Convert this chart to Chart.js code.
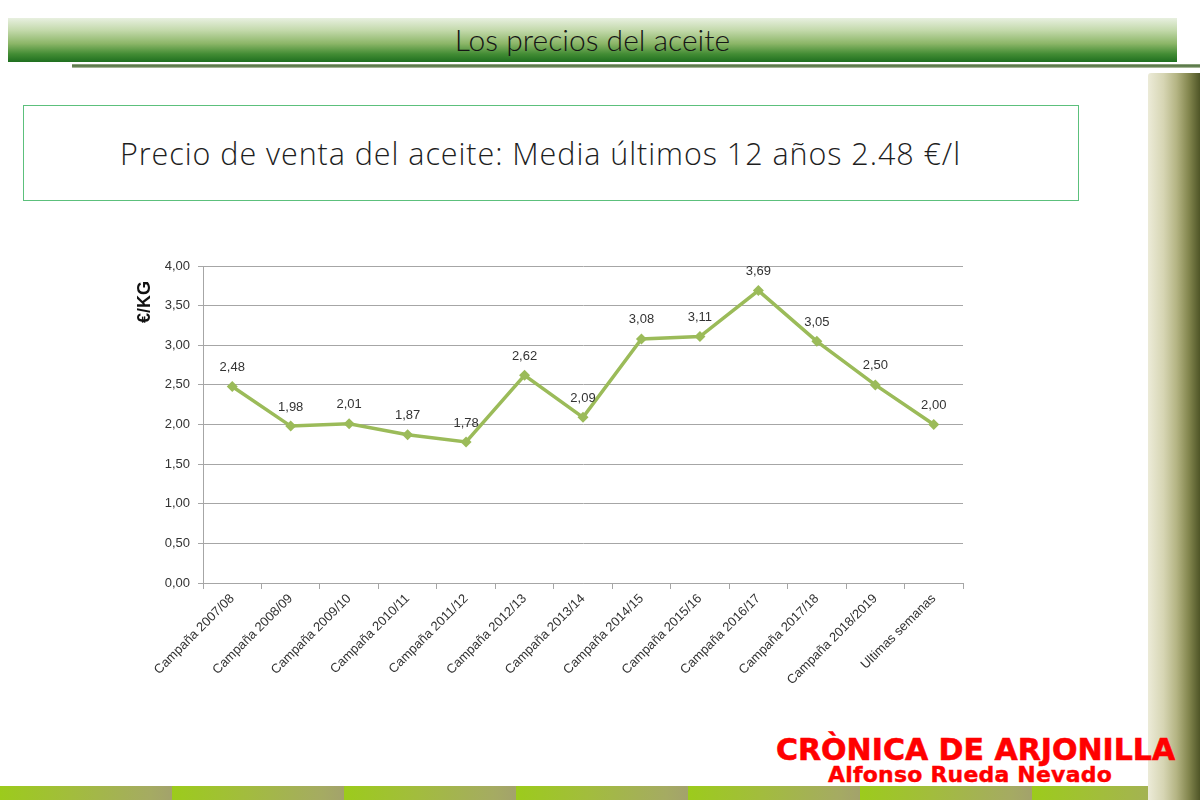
<!DOCTYPE html>
<html>
<head>
<meta charset="utf-8">
<script src="https://cdn.jsdelivr.net/npm/chart.js@4.4.1/dist/chart.umd.min.js"></script>
<style>
  html, body { margin:0; padding:0; background:#fff; }
  body { width:1200px; height:800px; position:relative; overflow:hidden; font-family:"Liberation Sans", Arial, sans-serif; }
  #hdr { position:absolute; left:8px; top:18px; width:1169px; height:44px;
         background:linear-gradient(to bottom, #e8f0e0 0%, #c3d9ab 28%, #8cb668 58%, #428c34 82%, #1f6f1f 100%);
         text-align:center; line-height:42px; font-family:"Lato", sans-serif; font-weight:300; font-size:30px; color:#151515; }
  #hline { position:absolute; left:72px; top:64px; width:1128px; height:4px;
           background:linear-gradient(to bottom, #9fb48f 0%, #4f6e3e 45%, #6f8a5e 70%, #c8d3bd 100%); }
  #rbar { position:absolute; left:1148px; top:73px; width:52px; height:727px;
          background:linear-gradient(to right, #ecebd8 0%, #d6d5b3 30%, #b4b483 55%, #84874f 78%, #4f5527 100%);
          border-top-left-radius:3px; }
  #bstrip { position:absolute; left:0; top:786px; width:1200px; height:14px;
            background:repeating-linear-gradient(to right, #9ccb1c 0px, #a2bd3c 70px, #a5ab62 150px, #a3a26c 172px); }
  #tbox { position:absolute; left:23px; top:105px; width:1054px; height:94px; border:1px solid #5cc07c; }
  #ttext { position:absolute; left:120px; top:131px; font-family:"Open Sans", sans-serif; font-weight:300; font-size:30.5px; letter-spacing:0.95px; color:#1e1e1e; white-space:nowrap; line-height:44px; }
  #chartwrap { position:absolute; left:120px; top:240px; width:860px; height:480px; }
  #brand1 { position:absolute; left:776px; top:734px; font-family:"DejaVu Sans", sans-serif; font-weight:bold; font-size:30px; color:#ff0000; white-space:nowrap; line-height:32px; -webkit-text-stroke:0.6px #ff0000; }
  #brand2 { position:absolute; left:828px; top:763px; font-family:"DejaVu Sans", sans-serif; font-weight:bold; font-size:22px; letter-spacing:0.2px; color:#ff0000; white-space:nowrap; line-height:24px; -webkit-text-stroke:0.4px #ff0000; }
</style>
</head>
<body>
<div id="hdr">Los precios del aceite</div>
<div id="hline"></div>
<div id="tbox"></div>
<div id="ttext">Precio de venta del aceite: Media últimos 12 años 2.48 €/l</div>
<div id="chartwrap"><canvas id="c"></canvas></div>
<div id="bstrip"></div>
<div id="rbar"></div>
<div id="brand1">CRÒNICA DE ARJONILLA</div>
<div id="brand2">Alfonso Rueda Nevado</div>
<script>
const categories = ["Campaña 2007/08","Campaña 2008/09","Campaña 2009/10","Campaña 2010/11","Campaña 2011/12","Campaña 2012/13","Campaña 2013/14","Campaña 2014/15","Campaña 2015/16","Campaña 2016/17","Campaña 2017/18","Campaña 2018/2019","Ultimas semanas"];
const precios = [2.48, 1.98, 2.01, 1.87, 1.78, 2.62, 2.09, 3.08, 3.11, 3.69, 3.05, 2.50, 2.00];
const yTitle = "€/KG";

const fmt = v => Number(v).toFixed(2).replace('.', ',');
const gridGray = '#a6a6a6';
const textCol = '#333333';

const valueLabels = {
  id: 'valueLabels',
  afterDatasetsDraw(chart) {
    const ctx = chart.ctx;
    const meta = chart.getDatasetMeta(0);
    ctx.save();
    ctx.font = '13px "Liberation Sans", Arial, sans-serif';
    ctx.fillStyle = textCol;
    ctx.textAlign = 'center';
    ctx.textBaseline = 'middle';
    meta.data.forEach((pt, i) => {
      ctx.fillText(fmt(precios[i]), pt.x, pt.y - 19);
    });
    ctx.restore();
  }
};

new Chart(document.getElementById('c'), {
  type: 'line',
  data: {
    labels: categories,
    datasets: [{
      data: precios,
      borderColor: '#9bbb59',
      backgroundColor: '#9bbb59',
      borderWidth: 3.5,
      pointStyle: 'rectRot',
      pointRadius: 5.5,
      pointBorderWidth: 0,
      tension: 0,
      fill: false
    }]
  },
  options: {
    responsive: true,
    maintainAspectRatio: false,
    animation: false,
    layout: { padding: { left: 0, right: 17, top: 26, bottom: 24 } },
    plugins: { legend: { display: false }, tooltip: { enabled: false } },
    scales: {
      x: {
        type: 'category',
        offset: true,
        grid: { offset: true, drawOnChartArea: false, drawTicks: true, tickLength: 6, color: gridGray },
        border: { display: true, color: gridGray, width: 1 },
        ticks: { autoSkip: false, minRotation: 45, maxRotation: 45, color: textCol,
                 font: { family: '"Liberation Sans", Arial, sans-serif', size: 13 }, padding: 2 },
        afterFit(scale) { scale.height = 113; }
      },
      y: {
        min: 0, max: 4,
        ticks: { stepSize: 0.5, color: textCol, padding: 8,
                 font: { family: '"Liberation Sans", Arial, sans-serif', size: 13 },
                 callback: v => fmt(v) },
        grid: { color: gridGray, lineWidth: 1, tickLength: 5 },
        border: { display: true, color: gridGray, width: 1 },
        title: { display: true, text: yTitle + '   ', align: 'end', color: '#111',
                 font: { family: '"Liberation Sans", Arial, sans-serif', size: 18, weight: 'bold' },
                 padding: { top: 14, bottom: 0 } },
        afterFit(scale) { scale.width = 83; }
      }
    }
  },
  plugins: [valueLabels]
});
</script>
</body>
</html>
